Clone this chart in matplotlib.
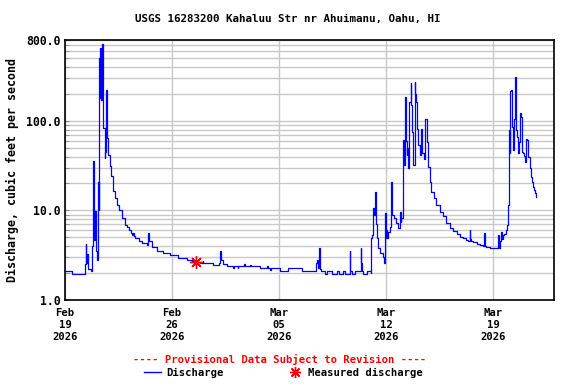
import numpy as np
import pandas as pd
import matplotlib
matplotlib.use("Agg")
import matplotlib.pyplot as plt
import matplotlib.dates as mdates
from matplotlib.ticker import LogLocator, NullFormatter, FixedLocator, FormatStrFormatter

plt.rcParams['font.family'] = ['DejaVu Sans Mono']
plt.rcParams['font.weight'] = 'bold'

start = pd.Timestamp("2026-02-19")

days = [0.00, 0.46, 1.29, 1.33, 1.37, 1.40, 1.45, 1.50, 1.70, 1.75, 1.83, 1.88, 1.95,
        2.00, 2.05, 2.10, 2.13, 2.16, 2.20, 2.24, 2.28, 2.31, 2.37, 2.41, 2.44, 2.50,
        2.60, 2.65, 2.70, 2.75, 2.81, 2.92, 3.03, 3.12, 3.25, 3.40, 3.55, 3.73, 3.94,
        4.04, 4.17, 4.30, 4.38, 4.45, 4.50, 4.60, 4.82, 5.04, 5.34, 5.45, 5.50, 5.67,
        6.00, 6.43, 6.87, 7.41, 7.96, 8.30, 8.60, 8.83, 9.00, 9.05, 9.70, 10.10, 10.14,
        10.20, 10.35, 10.58, 11.00, 11.05, 11.30, 11.35, 11.45, 11.70, 11.80, 12.10,
        12.20, 12.75, 13.20, 13.30, 13.40, 13.45, 14.06, 14.60, 15.50, 16.13, 16.40,
        16.46, 16.55, 16.61, 16.66, 16.75, 17.00, 17.15, 17.50, 17.80, 17.90, 18.20,
        18.30, 18.64, 18.68, 18.75, 19.00, 19.36, 19.40, 19.45, 19.50, 19.75, 20.00,
        20.05, 20.12, 20.16, 20.20, 20.29, 20.33, 20.39, 20.49, 20.60, 20.78, 20.86,
        20.93, 20.97, 21.00, 21.02, 21.04, 21.14, 21.30, 21.36, 21.40, 21.43, 21.54,
        21.69, 21.80, 21.91, 21.96, 22.02, 22.10, 22.13, 22.18, 22.20, 22.26, 22.30,
        22.35, 22.40, 22.45, 22.52, 22.61, 22.66, 22.68, 22.74, 22.78, 22.89, 22.93,
        22.96, 23.04, 23.13, 23.22, 23.30, 23.39, 23.50, 23.56, 23.66, 23.76, 23.87,
        23.98, 24.13, 24.31, 24.53, 24.74, 24.96, 25.18, 25.40, 25.62, 25.83, 26.05,
        26.27, 26.40, 26.49, 26.53, 26.60, 26.70, 26.93, 27.14, 27.36, 27.42, 27.46,
        27.58, 27.80, 28.34, 28.40, 28.45, 28.56, 28.60, 28.67, 28.73, 28.78, 28.89,
        28.95, 28.99, 29.06, 29.10, 29.15, 29.19, 29.25, 29.32, 29.38, 29.45, 29.52,
        29.58, 29.65, 29.71, 29.78, 29.84, 29.91, 29.98, 30.04, 30.11, 30.17, 30.24,
        30.30, 30.41, 30.48, 30.56, 30.63, 30.69, 30.74, 30.80, 30.85]
flow = [2.1, 1.95, 2.0, 2.5, 4.2, 2.6, 3.3, 2.2, 2.1, 4.0, 35.6, 4.7, 9.8,
        5.0, 3.5, 2.8, 3.5, 21, 10, 505, 180, 650, 171, 300, 722, 83,
        38.5, 45, 223, 64, 41.5, 31, 24, 16.5, 13.7, 11.5, 10, 8.2, 6.9,
        6.6, 6.0, 5.6, 5.3, 5.6, 5.2, 4.9, 4.55, 4.3, 4.1, 5.55, 4.6, 3.94,
        3.52, 3.32, 3.18, 2.97, 2.8, 2.7, 2.65, 2.6, 2.75, 2.6, 2.46, 2.6, 3.5,
        2.8, 2.5, 2.42, 2.3, 2.42, 2.3, 2.42, 2.4, 2.5, 2.4, 2.45,
        2.4, 2.26, 2.4, 2.26, 2.15, 2.26, 2.1, 2.26, 2.1, 2.1, 2.6,
        2.8, 2.3, 3.77, 2.2, 2.1, 1.95, 2.1, 1.95, 2.1, 1.95, 2.1,
        1.95, 3.5, 2.1, 1.95, 2.1, 3.77, 2.6, 2.1, 1.95, 2.1, 2.02,
        4.9, 5.3, 10.6, 9.0, 16.2, 7.0, 4.9, 3.8, 3.35, 3.05, 2.6,
        5.3, 9.4, 4.9, 6.0, 4.9, 5.8, 6.6, 21, 12, 8.9, 8.2,
        7.2, 6.3, 9.7, 7.5, 8.2, 20, 61, 45, 32, 186, 60,
        41.5, 50, 29.5, 163, 264, 150, 126, 75.6, 32, 270, 200,
        163, 82, 53.5, 41.5, 82, 43.5, 38, 106, 58, 30.8, 21,
        16.2, 13.6, 11.5, 9.7, 8.7, 7.2, 6.4, 5.9, 5.4, 5.0, 4.9,
        4.7, 4.5, 6.1, 4.8, 4.6, 4.4, 4.2, 4.1, 4.0, 5.6, 4.0,
        3.88, 3.85, 5.3, 3.85, 4.5, 5.8, 4.8, 5.3, 5.45, 5.5, 6.1,
        6.9, 11.5, 79, 43.5, 217, 222, 86, 47.3, 106, 307, 79,
        66.6, 43.5, 58, 124, 111, 45.1, 43.5, 40.4, 35, 63.5, 61,
        39.8, 29.5, 23.8, 21, 18.4, 16.9, 15.5, 14.0, 14.0]

meas_day = [8.55]
meas_flow = [2.65]

t = start + pd.to_timedelta(days, unit='D')
tm = start + pd.to_timedelta(meas_day, unit='D')

fig = plt.figure(figsize=(5.76, 3.84), dpi=100)
ax = fig.add_axes([65 / 576, 1 - 300 / 384, 489 / 576, 260 / 384])

ax.plot(t, flow, color='#0000ff', lw=0.9, drawstyle='steps-post')
ax.plot(tm, meas_flow, linestyle='none', marker=(8, 2, 0), ms=9,
        mec='red', mew=1.0)

ax.set_yscale('log')
ax.set_ylim(1, 800)
ax.set_xlim(start, start + pd.Timedelta(days=32))

ax.yaxis.set_major_locator(FixedLocator([1, 10, 100, 800]))
ax.yaxis.set_major_formatter(FormatStrFormatter('%.1f'))
ax.yaxis.set_minor_locator(LogLocator(base=10, subs=np.arange(2, 10)))
ax.yaxis.set_minor_formatter(NullFormatter())

ax.set_xticks([start + pd.Timedelta(days=7 * k) for k in range(5)])
ax.xaxis.set_major_formatter(mdates.DateFormatter('%b\n%d\n%Y'))

ax.grid(True, which='major', color='#c8c8c8', lw=1.0)
ax.grid(True, which='minor', axis='y', color='#c8c8c8', lw=1.0)
ax.set_axisbelow(True)

ax.tick_params(axis='both', which='both', direction='in', length=3,
               color='#888888')
ax.tick_params(axis='y', labelsize=8.3)
ax.tick_params(axis='x', length=0, pad=6, labelsize=7.6)
for lab in ax.get_xticklabels() + ax.get_yticklabels():
    lab.set_fontweight('bold')
for lab in ax.get_xticklabels():
    lab.set_linespacing(1.25)

for s in ax.spines.values():
    s.set_linewidth(1.2)
    s.set_color('black')

ax.set_ylabel('Discharge, cubic feet per second', fontsize=8.4, fontweight='bold',
              labelpad=5)

fig.text(0.5, 1 - 19 / 384, 'USGS 16283200 Kahaluu Str nr Ahuimanu, Oahu, HI',
         ha='center', va='center', fontsize=7.8, fontweight='bold')
fig.text(280 / 576, 1 - 359 / 384, '---- Provisional Data Subject to Revision ----',
         ha='center', va='center', fontsize=7.6, fontweight='bold', color='red')

# legend row
fig.add_artist(plt.Line2D([144 / 576, 161 / 576], [1 - 372 / 384] * 2,
                          color='#0000ff', lw=1.0))
fig.text(166 / 576, 1 - 373 / 384, 'Discharge', ha='left', va='center',
         fontsize=7.6, fontweight='bold')
fig.add_artist(plt.Line2D([295 / 576], [1 - 372 / 384], linestyle='none',
                          marker=(8, 2, 0), ms=8, mec='red', mew=1.0))
fig.text(308 / 576, 1 - 373 / 384, 'Measured discharge', ha='left', va='center',
         fontsize=7.6, fontweight='bold')

fig.savefig('out.png', dpi=100)
